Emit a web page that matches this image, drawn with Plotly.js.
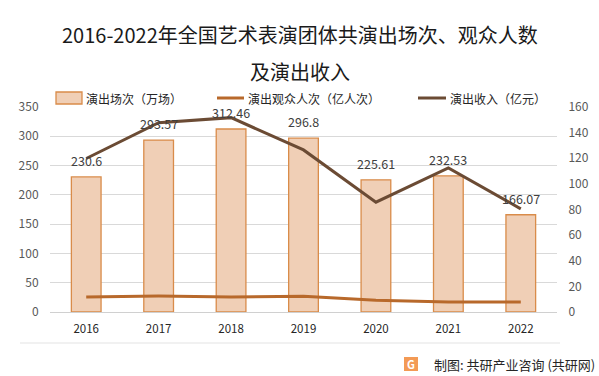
<!DOCTYPE html>
<html>
<head>
<meta charset="utf-8">
<script src="https://cdn.plot.ly/plotly-3.0.1.min.js"></script>
<style>
html,body{margin:0;padding:0;background:#fff;}
#chart{width:599px;height:376px;}
</style>
</head>
<body>
<div id="chart"></div>
<script>
var years = ['2016','2017','2018','2019','2020','2021','2022'];
var shows = [230.6, 293.57, 312.46, 296.8, 225.61, 232.53, 166.07];       // 演出场次（万场）
var audience = [11.8, 12.4, 11.8, 12.3, 9.2, 7.9, 7.9];                   // 演出观众人次（亿人次）
var income = [119.8, 147.8, 151.7, 126.5, 85.7, 112.4, 80.5];              // 演出收入（亿元）
var seriesNames = ['演出场次（万场）', '演出观众人次（亿人次）', '演出收入（亿元）'];
var leftTicks = [0, 50, 100, 150, 200, 250, 300, 350];
var rightTicks = [0, 20, 40, 60, 80, 100, 120, 140, 160];

var FONT = '"Microsoft YaHei","Noto Sans CJK SC","DejaVu Sans",sans-serif';
var BAR_FILL = '#F0CFB6', BAR_LINE = '#D98C4A', AUD_C = '#B8692B', INC_C = '#6B4B34';
var CLEAR = 'rgba(0,0,0,0)';

var traces = [
  {
    type: 'bar', name: seriesNames[0], x: years, y: shows,
    width: 0.41,
    marker: {color: BAR_FILL, line: {color: BAR_LINE, width: 1.3}},
    hoverinfo: 'skip'
  },
  {
    type: 'scatter', mode: 'lines', name: seriesNames[1], x: years, y: audience,
    yaxis: 'y2', line: {color: AUD_C, width: 3}, hoverinfo: 'skip'
  },
  {
    type: 'scatter', mode: 'lines', name: seriesNames[2], x: years, y: income,
    yaxis: 'y2', line: {color: INC_C, width: 3}, hoverinfo: 'skip'
  }
];

var plotH = 376 - 107 - 64, plotW = 599 - 50 - 42;
function py(pix){ return (376 - 64 - pix) / plotH; }
function px(pix){ return (pix - 50) / plotW; }

var layout = {
  width: 599, height: 376,
  margin: {l: 50, r: 42, t: 107, b: 64, autoexpand: false},
  paper_bgcolor: '#fff', plot_bgcolor: '#fff',
  font: {family: FONT, color: '#404040', size: 12},
  showlegend: false,
  xaxis: {
    type: 'category', categoryorder: 'array', categoryarray: years,
    showgrid: false, zeroline: false,
    showline: false, ticks: 'outside', ticklen: 6, tickcolor: CLEAR,
    tickfont: {size: 11.5, color: '#262626', family: FONT}
  },
  yaxis: {
    range: [0, 350], tickvals: leftTicks, showgrid: true,
    gridcolor: '#D9D9D9', gridwidth: 1, zeroline: true, zerolinecolor: '#D0D0D0',
    showline: false, ticks: 'outside', ticklen: 8, tickcolor: CLEAR,
    tickfont: {size: 12, color: '#595959', family: FONT}
  },
  yaxis2: {
    range: [0, 160], tickvals: rightTicks, overlaying: 'y', side: 'right',
    showgrid: false, zeroline: false, showline: false,
    ticks: 'outside', ticklen: 8, tickcolor: CLEAR,
    tickfont: {size: 12, color: '#595959', family: FONT}
  },
  annotations: [
    {text: '2016-2022年全国艺术表演团体共演出场次、观众人数', xref: 'paper', yref: 'paper',
     x: px(300), y: py(35), xanchor: 'center', yanchor: 'middle', showarrow: false,
     font: {size: 20, color: '#1a1a1a', family: FONT}},
    {text: '及演出收入', xref: 'paper', yref: 'paper',
     x: px(300), y: py(71), xanchor: 'center', yanchor: 'middle', showarrow: false,
     font: {size: 20, color: '#1a1a1a', family: FONT}},
    {text: '制图: 共研产业咨询 (共研网)', xref: 'paper', yref: 'paper',
     x: px(597), y: py(364), xanchor: 'right', yanchor: 'middle', showarrow: false,
     font: {size: 13, color: '#262626', family: FONT}},
    {text: '<b>G</b>', xref: 'paper', yref: 'paper',
     x: px(411), y: py(364), xanchor: 'center', yanchor: 'middle', showarrow: false,
     font: {size: 11, color: '#ffffff', family: FONT}}
  ],
  shapes: [
    {type: 'line', xref: 'paper', yref: 'paper',
     x0: px(20), x1: px(560), y0: py(343), y1: py(343), line: {color: '#E3E3E3', width: 1}},
    {type: 'rect', xref: 'paper', yref: 'paper',
     x0: px(404), x1: px(418), y0: py(357), y1: py(371), fillcolor: '#F39A55', line: {width: 0}}
  ]
};

// bar value labels (x given as category index)
years.forEach(function(yr, i){
  layout.annotations.push({text: String(shows[i]), xref: 'x', yref: 'y',
    x: i, y: shows[i], xanchor: 'center', yanchor: 'bottom', yshift: 5,
    showarrow: false, font: {size: 12.5, color: '#404040', family: FONT}});
});

// legend (drawn manually to match the reference layout)
var legY = 98;
var legItems = [
  {sx0: 56, sx1: 82, tx: 84, kind: 'bar'},
  {sx0: 217, sx1: 244, tx: 246, kind: 'line', color: AUD_C},
  {sx0: 418, sx1: 446, tx: 448, kind: 'line', color: INC_C}
];
legItems.forEach(function(it, i){
  if (it.kind === 'bar') {
    layout.shapes.push({type: 'rect', xref: 'paper', yref: 'paper',
      x0: px(it.sx0), x1: px(it.sx1), y0: py(legY - 6), y1: py(legY + 6),
      fillcolor: BAR_FILL, line: {color: BAR_LINE, width: 1.3}});
  } else {
    layout.shapes.push({type: 'line', xref: 'paper', yref: 'paper',
      x0: px(it.sx0), x1: px(it.sx1), y0: py(legY), y1: py(legY),
      line: {color: it.color, width: 3}});
  }
  layout.annotations.push({text: seriesNames[i], xref: 'paper', yref: 'paper',
    x: px(it.tx), y: py(legY), xanchor: 'left', yanchor: 'middle', showarrow: false,
    font: {size: 12, color: '#262626', family: FONT}});
});

Plotly.newPlot('chart', traces, layout, {staticPlot: true, displayModeBar: false});
</script>
</body>
</html>
